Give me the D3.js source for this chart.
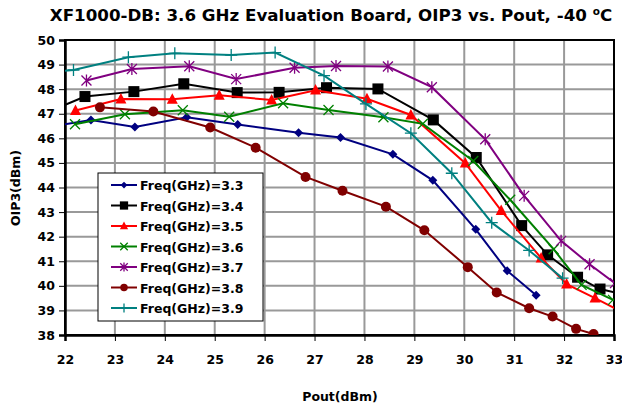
<!DOCTYPE html>
<html>
<head>
<meta charset="utf-8">
<script src="https://cdn.jsdelivr.net/npm/d3@7"></script>
<style>
  body { margin: 0; background: #fff; }
  svg text { font-family: "DejaVu Sans", sans-serif; font-weight: 700; fill: #000; }
</style>
</head>
<body>
<div class="chart"></div>
<script>
// Pout (dBm) / OIP3 (dBm), one pair of arrays per frequency
const freqs = ["3.3", "3.4", "3.5", "3.6", "3.7", "3.8", "3.9"];

const pout33 = [21.5, 22.52, 23.40, 24.44, 25.46, 26.68, 27.52, 28.57, 29.37, 30.23, 30.86, 31.44];
const oip33 = [46.40, 46.75, 46.46, 46.86, 46.56, 46.23, 46.03, 45.35, 44.29, 42.30, 40.61, 39.62];

const pout34 = [21.4, 22.40, 23.38, 24.38, 25.45, 26.29, 27.24, 28.27, 29.38, 30.24, 31.15, 31.67, 32.27, 32.72, 33.3];
const oip34 = [46.85, 47.70, 47.90, 48.22, 47.86, 47.87, 48.06, 48.01, 46.75, 45.22, 42.45, 41.26, 40.35, 39.87, 39.60];

const pout35 = [22.21, 23.12, 24.15, 25.09, 26.14, 27.02, 28.05, 28.93, 30.02, 30.74, 31.54, 32.05, 32.62, 33.2];
const oip35 = [47.13, 47.60, 47.59, 47.75, 47.56, 47.96, 47.61, 46.95, 44.99, 43.06, 41.13, 40.07, 39.50, 38.90];

const pout36 = [22.20, 23.20, 24.36, 25.29, 26.37, 27.28, 28.38, 29.17, 30.18, 30.92, 31.79, 32.35, 32.98];
const oip36 = [46.57, 46.98, 47.14, 46.88, 47.43, 47.15, 46.86, 46.59, 45.08, 43.50, 41.49, 40.04, 39.43];

const pout37 = [22.43, 23.34, 24.49, 25.43, 26.60, 27.43, 28.47, 29.35, 30.42, 31.20, 31.94, 32.51, 33.02];
const oip37 = [48.35, 48.82, 48.93, 48.41, 48.87, 48.94, 48.92, 48.08, 45.96, 43.66, 41.83, 40.88, 40.11];

const pout38 = [22.70, 23.77, 24.91, 25.82, 26.82, 27.56, 28.43, 29.20, 30.07, 30.65, 31.30, 31.77, 32.24, 32.59];
const oip38 = [47.26, 47.09, 46.44, 45.62, 44.43, 43.87, 43.22, 42.26, 40.76, 39.73, 39.09, 38.75, 38.25, 38.04];

const pout39 = [21.2, 22.17, 23.27, 24.20, 25.33, 26.21, 27.19, 28.03, 28.93, 29.75, 30.55, 31.30, 31.97];
const oip39 = [48.60, 48.78, 49.30, 49.46, 49.39, 49.49, 48.55, 47.40, 46.21, 44.58, 42.57, 41.44, 40.31];

const xTicks = [22, 23, 24, 25, 26, 27, 28, 29, 30, 31, 32, 33];
const yTicks = [38, 39, 40, 41, 42, 43, 44, 45, 46, 47, 48, 49, 50];

const seriesX = [pout33, pout34, pout35, pout36, pout37, pout38, pout39];
const seriesY = [oip33, oip34, oip35, oip36, oip37, oip38, oip39];
const colors = ["#000080", "#000000", "#ff0000", "#008000", "#800080", "#800000", "#008080"];
const shapes = ["diamond", "square", "triangle", "cross", "star", "circle", "plus"];

const series = freqs.map((f, i) => ({
  name: "Freq(GHz)=" + f,
  color: colors[i],
  shape: shapes[i],
  values: seriesX[i].map((x, j) => ({ x: x, y: seriesY[i][j] }))
}));

const W = 622, H = 408;
const margin = { top: 40, right: 8, bottom: 73, left: 65 };
const width = W - margin.left - margin.right,
    height = H - margin.top - margin.bottom;

const svg = d3.select(".chart").append("svg")
  .attr("width", W).attr("height", H);

const xScale = d3.scaleLinear().domain([22, 33]).range([0, width]);
const yScale = d3.scaleLinear().domain([38, 50]).range([height, 0]);

// title
const title = svg.append("text")
  .attr("x", 331).attr("y", 21)
  .attr("text-anchor", "middle")
  .style("font-size", "16.7px");
title.append("tspan").text("XF1000-DB: 3.6 GHz Evaluation Board, OIP3 vs. Pout, -40 ");
title.append("tspan").text("o").attr("dy", -6).style("font-size", "10.5px");
title.append("tspan").text("C").attr("dy", 6);

const g = svg.append("g")
  .attr("transform", `translate(${margin.left},${margin.top})`);

// grid
g.append("g").selectAll("line").data(xTicks.slice(1, -1)).join("line")
  .attr("x1", d => xScale(d)).attr("x2", d => xScale(d))
  .attr("y1", 0).attr("y2", height)
  .attr("stroke", "#999").attr("stroke-width", 2);
g.append("g").selectAll("line").data(yTicks.slice(1, -1)).join("line")
  .attr("x1", 0).attr("x2", width)
  .attr("y1", d => yScale(d)).attr("y2", d => yScale(d))
  .attr("stroke", "#999").attr("stroke-width", 2);

// frame
g.append("rect").attr("width", width).attr("height", height)
  .attr("fill", "none").attr("stroke", "#000").attr("stroke-width", 2);

// axes
const xAxis = d3.axisBottom(xScale).tickValues(xTicks).tickSize(6).tickPadding(14);
const yAxis = d3.axisLeft(yScale).tickValues(yTicks).tickSize(6).tickPadding(4);

const gx = g.append("g").attr("transform", `translate(0,${height})`).call(xAxis);
const gy = g.append("g").call(yAxis);
[gx, gy].forEach(a => {
  a.select(".domain").attr("stroke-width", 2.5);
  a.selectAll(".tick line").attr("stroke-width", 1);
  a.selectAll(".tick text").style("font-size", "12.5px")
    .style("font-family", "'DejaVu Sans', sans-serif").style("font-weight", 700);
});

svg.append("text").attr("x", 340).attr("y", 401)
  .attr("text-anchor", "middle").style("font-size", "12.5px").text("Pout(dBm)");
svg.append("text")
  .attr("transform", "translate(20,188) rotate(-90)")
  .attr("text-anchor", "middle").style("font-size", "12.5px").text("OIP3(dBm)");

// clip
svg.append("defs").append("clipPath").attr("id", "plot")
  .append("rect").attr("x", 0).attr("y", -6).attr("width", width).attr("height", height + 6);

const line = d3.line().x(d => xScale(d.x)).y(d => yScale(d.y));

function marker(sel, shape, color, s) {
  if (shape === "diamond") {
    sel.append("path").attr("d", `M0,${-s}L${s},0L0,${s}L${-s},0Z`).attr("fill", color);
  } else if (shape === "square") {
    sel.append("rect").attr("x", -s).attr("y", -s).attr("width", 2 * s).attr("height", 2 * s).attr("fill", color);
  } else if (shape === "triangle") {
    sel.append("path").attr("d", `M0,${-s * 1.1}L${s},${s * 0.8}L${-s},${s * 0.8}Z`).attr("fill", color);
  } else if (shape === "circle") {
    sel.append("circle").attr("r", s).attr("fill", color);
  } else if (shape === "cross") {
    sel.append("path").attr("d", `M${-s},${-s}L${s},${s}M${-s},${s}L${s},${-s}`)
      .attr("stroke", color).attr("stroke-width", 1.3);
  } else if (shape === "star") {
    sel.append("path").attr("d", `M${-s},${-s}L${s},${s}M${-s},${s}L${s},${-s}M0,${-s * 1.2}L0,${s * 1.2}`)
      .attr("stroke", color).attr("stroke-width", 1.3);
  } else if (shape === "plus") {
    sel.append("path").attr("d", `M${-s},0L${s},0M0,${-s}L0,${s}`)
      .attr("stroke", color).attr("stroke-width", 1.3);
  }
}

const sizes = { diamond: 4.5, square: 5.5, triangle: 5.5, circle: 5, cross: 5, star: 5, plus: 6 };

const plot = g.append("g").attr("clip-path", "url(#plot)");
series.forEach(s => {
  plot.append("path").datum(s.values)
    .attr("d", line).attr("fill", "none")
    .attr("stroke", s.color).attr("stroke-width", 2);
  s.values.forEach(v => {
    const m = plot.append("g").attr("transform", `translate(${xScale(v.x)},${yScale(v.y)})`);
    marker(m, s.shape, s.color, sizes[s.shape]);
  });
});

// legend
const lg = svg.append("g").attr("transform", "translate(98,173)");
lg.append("rect").attr("width", 165).attr("height", 148)
  .attr("fill", "#fff").attr("stroke", "#000").attr("stroke-width", 1);
series.forEach((s, i) => {
  const row = lg.append("g").attr("transform", `translate(0,${12 + i * 20.5})`);
  row.append("line").attr("x1", 13).attr("x2", 39).attr("stroke", s.color).attr("stroke-width", 2);
  const m = row.append("g").attr("transform", "translate(26,0)");
  marker(m, s.shape, s.color, sizes[s.shape] * 0.75);
  row.append("text").attr("x", 42).attr("y", 5).style("font-size", "12.5px").text(s.name);
});
</script>
</body>
</html>
